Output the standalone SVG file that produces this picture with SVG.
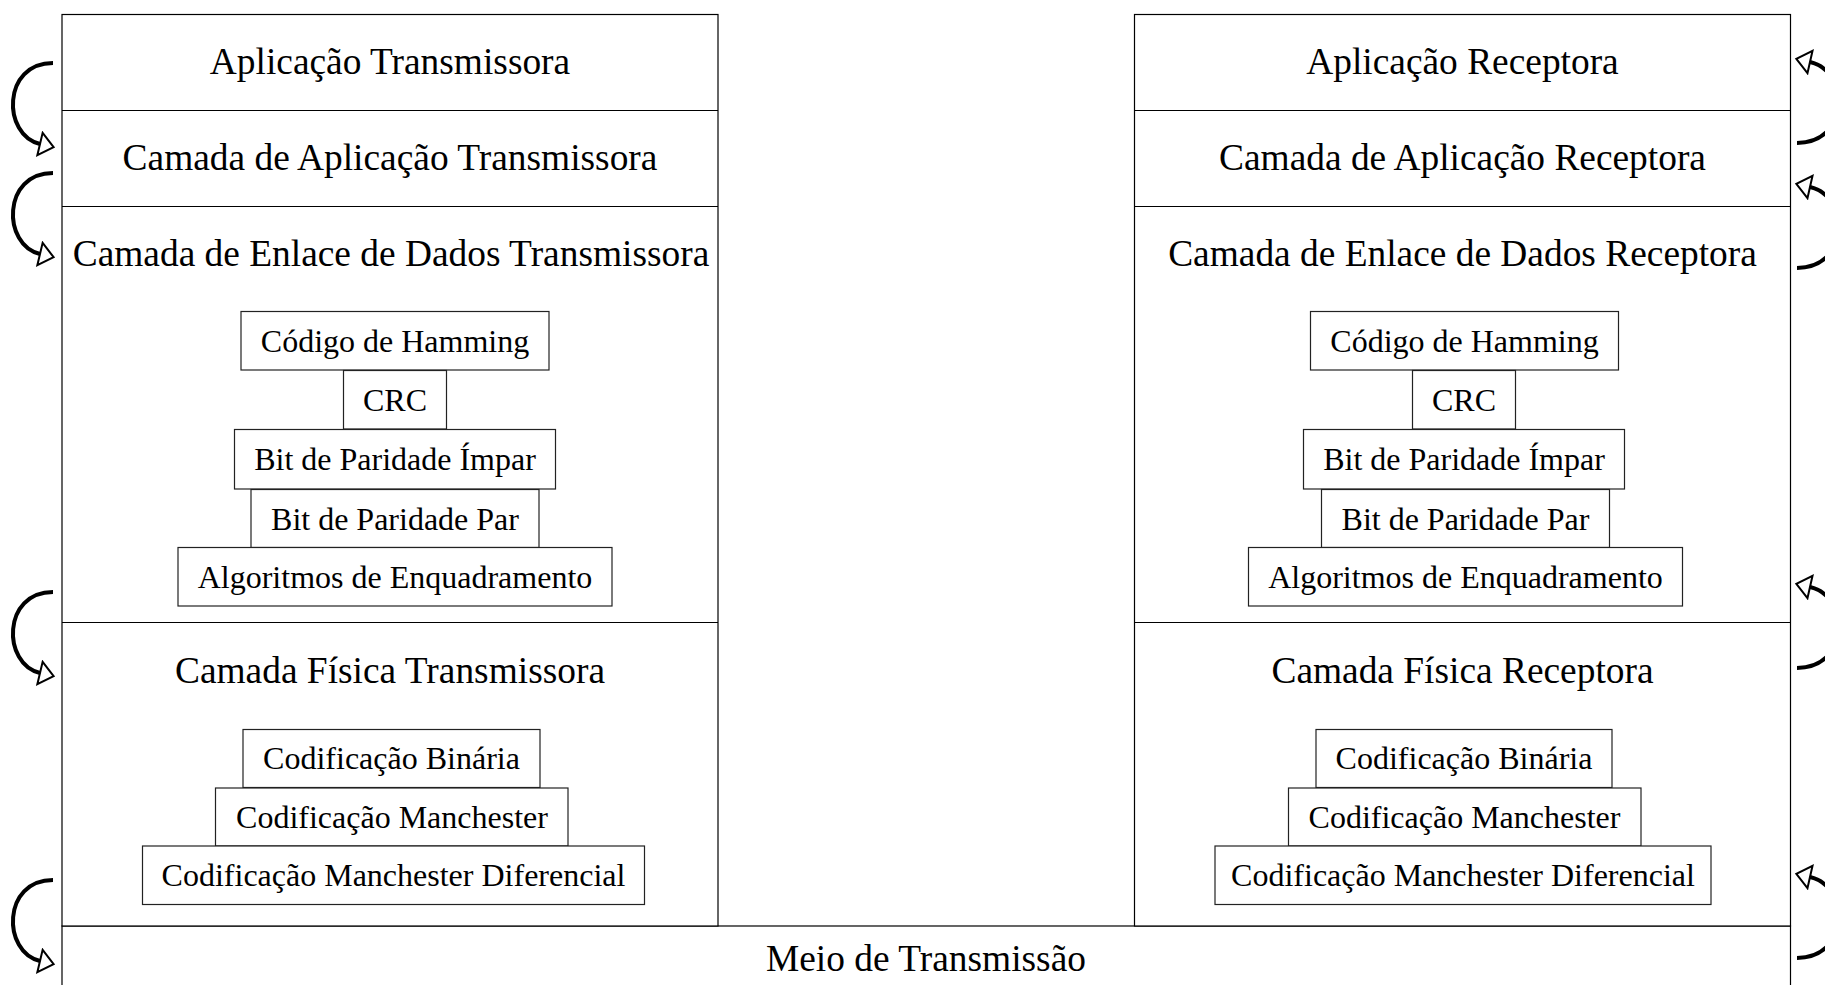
<svg xmlns="http://www.w3.org/2000/svg" width="1825" height="985" viewBox="0 0 1825 985">
<style>
.bg{fill:#fff}
.col{fill:#fff;stroke:#000;stroke-width:1.2}
.sep{stroke:#000;stroke-width:1.2}
.sub{fill:#fff;stroke:#222;stroke-width:1.2}
.t{font-family:"Liberation Serif","Times New Roman",serif;font-size:37.4px;fill:#000;text-anchor:middle}
.s{font-family:"Liberation Serif","Times New Roman",serif;font-size:32px;fill:#000;text-anchor:middle}
.arr{fill:none;stroke:#000;stroke-width:4;marker-end:url(#open)}
</style>
<defs>
<marker id="open" markerUnits="userSpaceOnUse" markerWidth="24" markerHeight="30" refX="2" refY="13" orient="auto" viewBox="0 0 24 30">
<path d="M2,1.5 L16,13 L2,24.5 Z" fill="#fff" stroke="#000" stroke-width="2"/>
</marker>
</defs>
<rect class="bg" x="0" y="0" width="1825" height="985"/>

<g id="meio">
<rect class="col" x="62" y="926" width="1728.5" height="80"/>
<text class="t" x="926" y="971">Meio de Transmissão</text>
</g>

<g id="transmissor">
<rect class="col" x="62" y="14.5" width="656" height="911.5"/>
<line class="sep" x1="62" y1="110.5" x2="718" y2="110.5"/>
<line class="sep" x1="62" y1="206.5" x2="718" y2="206.5"/>
<line class="sep" x1="62" y1="622.5" x2="718" y2="622.5"/>
</g>
<g id="app-tx"><text class="t" x="390" y="74">Aplicação Transmissora</text></g>
<g id="camada-app-tx"><text class="t" x="390" y="170">Camada de Aplicação Transmissora</text></g>
<g id="enlace-tx">
<text class="t" x="391" y="266">Camada de Enlace de Dados Transmissora</text>
</g>
<g id="hamming-tx"><rect class="sub" x="241" y="311.5" width="308" height="58.5"/><text class="s" x="395" y="351.5">Código de Hamming</text></g>
<g id="crc-tx"><rect class="sub" x="343.5" y="370.5" width="103" height="58.5"/><text class="s" x="395" y="410.5">CRC</text></g>
<g id="impar-tx"><rect class="sub" x="234.5" y="429.5" width="321" height="59.5"/><text class="s" x="395" y="470">Bit de Paridade Ímpar</text></g>
<g id="par-tx"><rect class="sub" x="251" y="489.5" width="288" height="58"/><text class="s" x="395" y="529.5">Bit de Paridade Par</text></g>
<g id="enquadramento-tx"><rect class="sub" x="178" y="547.5" width="434" height="58.5"/><text class="s" x="395" y="587.5">Algoritmos de Enquadramento</text></g>
<g id="fisica-tx"><text class="t" x="390" y="683">Camada Física Transmissora</text></g>
<g id="binaria-tx"><rect class="sub" x="243" y="729.5" width="297" height="58"/><text class="s" x="391.5" y="769">Codificação Binária</text></g>
<g id="manchester-tx"><rect class="sub" x="215.5" y="788" width="352.5" height="58"/><text class="s" x="392" y="827.5">Codificação Manchester</text></g>
<g id="diferencial-tx"><rect class="sub" x="142.5" y="846" width="502" height="58.5"/><text class="s" x="393.5" y="885.5">Codificação Manchester Diferencial</text></g>

<g id="receptor">
<rect class="col" x="1134.5" y="14.5" width="656" height="911.5"/>
<line class="sep" x1="1134.5" y1="110.5" x2="1790.5" y2="110.5"/>
<line class="sep" x1="1134.5" y1="206.5" x2="1790.5" y2="206.5"/>
<line class="sep" x1="1134.5" y1="622.5" x2="1790.5" y2="622.5"/>
</g>
<g id="app-rx"><text class="t" x="1462.5" y="74">Aplicação Receptora</text></g>
<g id="camada-app-rx"><text class="t" x="1462.5" y="170">Camada de Aplicação Receptora</text></g>
<g id="enlace-rx"><text class="t" x="1462.5" y="266">Camada de Enlace de Dados Receptora</text></g>
<g id="hamming-rx"><rect class="sub" x="1310.5" y="311.5" width="308" height="58.5"/><text class="s" x="1464.5" y="351.5">Código de Hamming</text></g>
<g id="crc-rx"><rect class="sub" x="1412.5" y="370.5" width="103" height="58.5"/><text class="s" x="1464" y="410.5">CRC</text></g>
<g id="impar-rx"><rect class="sub" x="1303.5" y="429.5" width="321" height="59.5"/><text class="s" x="1464" y="470">Bit de Paridade Ímpar</text></g>
<g id="par-rx"><rect class="sub" x="1321.5" y="489.5" width="288" height="58"/><text class="s" x="1465.5" y="529.5">Bit de Paridade Par</text></g>
<g id="enquadramento-rx"><rect class="sub" x="1248.5" y="547.5" width="434" height="58.5"/><text class="s" x="1465.5" y="587.5">Algoritmos de Enquadramento</text></g>
<g id="fisica-rx"><text class="t" x="1462.5" y="683">Camada Física Receptora</text></g>
<g id="binaria-rx"><rect class="sub" x="1316" y="729.5" width="296" height="58"/><text class="s" x="1464" y="769">Codificação Binária</text></g>
<g id="manchester-rx"><rect class="sub" x="1288.5" y="788" width="352.5" height="58"/><text class="s" x="1464.5" y="827.5">Codificação Manchester</text></g>
<g id="diferencial-rx"><rect class="sub" x="1215" y="846" width="496" height="58.5"/><text class="s" x="1463" y="885.5">Codificação Manchester Diferencial</text></g>

<g id="connectors">
<path class="arr" d="M53,63 C2,63 2,135 40,144"/>
<path class="arr" d="M53,173 C2,173 2,245 40,254"/>
<path class="arr" d="M53,592 C2,592 2,664 40,673"/>
<path class="arr" d="M53,880 C2,880 2,952 40,961"/>
<path class="arr" d="M1797,143 C1850,143 1850,71 1810,62"/>
<path class="arr" d="M1797,268 C1850,268 1850,196 1810,187"/>
<path class="arr" d="M1797,668 C1850,668 1850,596 1810,587"/>
<path class="arr" d="M1797,958 C1850,958 1850,886 1810,877"/>
</g>
</svg>
